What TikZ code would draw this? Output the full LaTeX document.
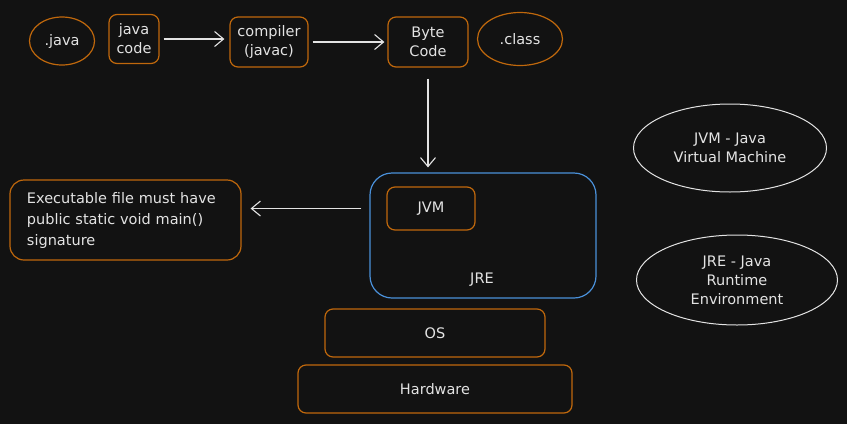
\documentclass[tikz,border=0pt]{standalone}
\usepackage{fontspec}
\setmainfont{DejaVu Sans}
\usetikzlibrary{shapes.geometric,arrows.meta}
\definecolor{bg}{HTML}{121212}
\definecolor{ink}{HTML}{E3E3E3}
\definecolor{amber}{HTML}{C0680C}
\definecolor{sky}{HTML}{4A90D9}
\begin{document}
\begin{tikzpicture}[x=1pt,y=-1pt,
    every node/.style={text=ink,font=\fontsize{14.5}{19}\selectfont},
    box/.style={draw=amber,line width=1.2pt,rounded corners=8pt,inner sep=0pt,align=center},
    blob/.style={draw=amber,ellipse,line width=1.2pt,inner sep=0pt},
    note/.style={draw=ink,ellipse,line width=1pt,inner sep=0pt,align=center},
    arr/.style={draw=ink,line width=1.1pt,-{Straight Barb[length=9pt,width=15pt]}}]
    % canvas
    \fill[bg] (0,0) rectangle (847,424);
    \useasboundingbox (0,0) rectangle (847,424);

    % compile chain
    \node[blob,minimum width=65pt,minimum height=48pt] (dotjava) at (62,41) {.java};
    \node[box,minimum width=50pt,minimum height=49pt] (javacode) at (134,39) {java\\code};
    \node[box,minimum width=78pt,minimum height=50pt] (compiler) at (269,42) {compiler\\(javac)};
    \node[box,minimum width=80pt,minimum height=50pt] (bytecode) at (428,42) {Byte\\Code};
    \node[blob,minimum width=85pt,minimum height=53pt] (dotclass) at (520,39) {.class};

    \draw[arr,shorten <=4pt,shorten >=5pt] (javacode) -- (compiler.west |- javacode);
    \draw[arr,shorten <=4pt,shorten >=3pt] (compiler) -- (bytecode);

    % runtime stack
    \node[box,draw=sky,rounded corners=22pt,minimum width=226pt,minimum height=125pt] (jre) at (483,235.5) {};
    \node[box,minimum width=88pt,minimum height=43pt] (jvm) at (431,208.5) {JVM};
    \node (jrelabel) at (482,280) {JRE};
    \node[box,minimum width=220pt,minimum height=48pt] (os) at (435,333) {OS};
    \node[box,minimum width=274pt,minimum height=48pt] (hw) at (435,389) {Hardware};

    \draw[arr,shorten <=11pt,shorten >=5pt] (bytecode.south) -- (bytecode.south |- jre.north);

    % entry point note
    \node[box,rounded corners=14pt,text width=197pt,inner xsep=17pt,minimum height=80pt,align=left,
          font=\fontsize{14.5}{21}\selectfont] (exec) at (125.5,220)
        {Executable file must have\\public static void main()\\signature};
    \draw[arr,shorten <=8pt,shorten >=9pt] (jre.west |- jvm) -- (exec.east |- jvm);

    % glossary
    \node[note,minimum width=193pt,minimum height=88pt] (jvmnote) at (730,148) {JVM - Java\\Virtual Machine};
    \node[note,minimum width=201pt,minimum height=90pt] (jrenote) at (737,280) {JRE - Java\\Runtime\\Environment};
\end{tikzpicture}
\end{document}
